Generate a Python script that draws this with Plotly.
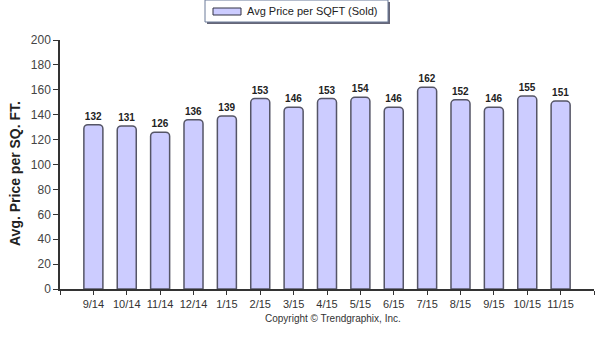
import plotly.graph_objects as go

months = ["9/14", "10/14", "11/14", "12/14", "1/15", "2/15", "3/15", "4/15",
          "5/15", "6/15", "7/15", "8/15", "9/15", "10/15", "11/15"]
avg_price = [132, 131, 126, 136, 139, 153, 146, 153, 154, 146, 162, 152, 146, 155, 151]
series_name = "Avg Price per SQFT (Sold)"
y_title = "Avg. Price per SQ. FT."
copyright_text = "Copyright \u00a9 Trendgraphix, Inc."

W, H = 600, 338
L, R, T, B = 60, 6, 40, 49
pw, ph = W - L - R, H - T - B

def px(x):
    return (x - L) / pw

def py(y):
    return (H - B - y) / ph

FONT = "Liberation Sans, Arial, sans-serif"
idx = list(range(len(months)))

fig = go.Figure()
fig.add_trace(go.Bar(
    x=idx, y=avg_price, name=series_name,
    width=0.57,
    marker=dict(color="#ccccff", line=dict(color="#555566", width=1.5), cornerradius=4),
    text=[str(v) for v in avg_price], textposition="outside",
    textfont=dict(family=FONT, size=10, color="#222222", weight="bold"),
    cliponaxis=False, showlegend=False,
))

fig.update_layout(
    width=W, height=H,
    margin=dict(l=L, r=R, t=T, b=B),
    paper_bgcolor="white", plot_bgcolor="white",
    font=dict(family=FONT, color="#333333"),
    xaxis=dict(
        range=[-1, len(months)],
        tickvals=[-1] + idx + [len(months)],
        ticktext=[""] + months + [""],
        showgrid=False, zeroline=False,
        showline=True, linecolor="#333333", linewidth=1.5,
        ticks="outside", ticklen=4, tickcolor="#333333",
        tickfont=dict(size=11, color="#333333"),
    ),
    yaxis=dict(
        range=[0, 200], dtick=20,
        showgrid=False, zeroline=False,
        showline=True, linecolor="#333333", linewidth=1.5,
        ticks="outside", ticklen=5, tickcolor="#333333",
        tickfont=dict(size=12, color="#444444"),
    ),
    showlegend=False,
)

# legend box (manual, matching wide swatch of the original)
shapes = [
    dict(type="rect", xref="paper", yref="paper",
         x0=px(207), x1=px(390), y0=py(24), y1=py(2),
         fillcolor="#666677", line=dict(width=0), layer="above"),
    dict(type="rect", xref="paper", yref="paper",
         x0=px(205), x1=px(388), y0=py(22), y1=py(0),
         fillcolor="white", line=dict(color="#6a7a99", width=1), layer="above"),
    dict(type="rect", xref="paper", yref="paper",
         x0=px(213), x1=px(241), y0=py(15), y1=py(8),
         fillcolor="#ccccff", line=dict(color="#333344", width=1), layer="above"),
]
fig.update_layout(shapes=shapes)
fig.add_annotation(xref="paper", yref="paper", x=px(245), y=py(11.5),
                   text=series_name, showarrow=False, xanchor="left", yanchor="middle",
                   font=dict(family=FONT, size=11, color="#222222"))
fig.add_annotation(xref="paper", yref="paper", x=px(333), y=py(318),
                   text=copyright_text, showarrow=False, xanchor="center", yanchor="middle",
                   font=dict(family=FONT, size=10, color="#333333"))
fig.add_annotation(xref="paper", yref="paper", x=px(15), y=py(174),
                   text=y_title, showarrow=False, textangle=-90,
                   xanchor="center", yanchor="middle",
                   font=dict(family=FONT, size=14, color="#222222", weight="bold"))

fig.write_html("out.html")
